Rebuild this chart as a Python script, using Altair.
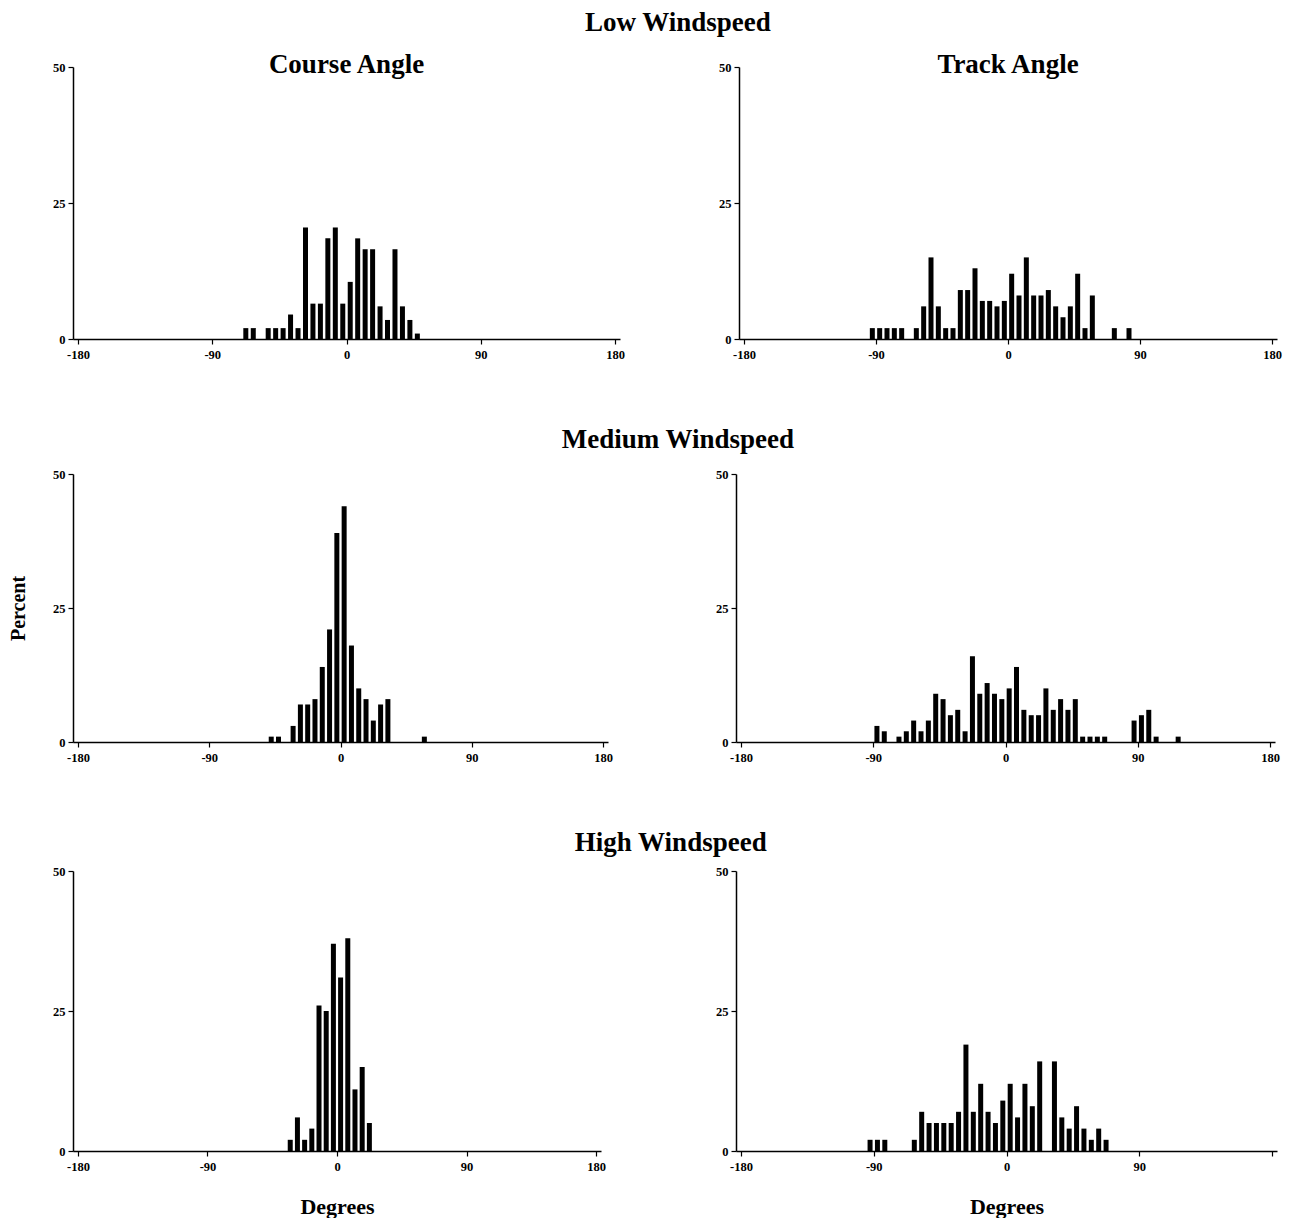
import altair as alt
import pandas as pd

FONT = "Liberation Serif"

# ---------------- data (5-degree bins, centres) ----------------
low_course_deg = [-67.5, -62.5, -52.5, -47.5, -42.5, -37.5, -32.5, -27.5, -22.5, -17.5, -12.5, -7.5,
                  -2.5, 2.5, 7.5, 12.5, 17.5, 22.5, 27.5, 32.5, 37.5, 42.5, 47.5]
low_course_pct = [2, 2, 2, 2, 2, 4.5, 2, 20.5, 6.5, 6.5, 18.5, 20.5,
                  6.5, 10.5, 18.5, 16.5, 16.5, 6, 3.5, 16.5, 6, 3.5, 1]

low_track_deg = [-92.5, -87.5, -82.5, -77.5, -72.5, -62.5, -57.5, -52.5, -47.5, -42.5, -37.5, -32.5,
                 -27.5, -22.5, -17.5, -12.5, -7.5, -2.5, 2.5, 7.5, 12.5, 17.5, 22.5, 27.5, 32.5,
                 37.5, 42.5, 47.5, 52.5, 57.5, 72.5, 82.5]
low_track_pct = [2, 2, 2, 2, 2, 2, 6, 15, 6, 2, 2, 9,
                 9, 13, 7, 7, 6, 7, 12, 8, 15, 8, 8, 9, 6,
                 4, 6, 12, 2, 8, 2, 2]

med_course_deg = [-47.5, -42.5, -32.5, -27.5, -22.5, -17.5, -12.5, -7.5, -2.5, 2.5, 7.5, 12.5,
                  17.5, 22.5, 27.5, 32.5, 57.5]
med_course_pct = [1, 1, 3, 7, 7, 8, 14, 21, 39, 44, 18, 10,
                  8, 4, 7, 8, 1]

med_track_deg = [-87.5, -82.5, -72.5, -67.5, -62.5, -57.5, -52.5, -47.5, -42.5, -37.5, -32.5, -27.5,
                 -22.5, -17.5, -12.5, -7.5, -2.5, 2.5, 7.5, 12.5, 17.5, 22.5, 27.5, 32.5, 37.5,
                 42.5, 47.5, 52.5, 57.5, 62.5, 67.5, 87.5, 92.5, 97.5, 102.5, 117.5]
med_track_pct = [3, 2, 1, 2, 4, 2, 4, 9, 8, 5, 6, 2,
                 16, 9, 11, 9, 8, 10, 14, 6, 5, 5, 10, 6, 8,
                 6, 8, 1, 1, 1, 1, 4, 5, 6, 1, 1]

high_course_deg = [-32.5, -27.5, -22.5, -17.5, -12.5, -7.5, -2.5, 2.5, 7.5, 12.5, 17.5, 22.5]
high_course_pct = [2, 6, 2, 4, 26, 25, 37, 31, 38, 11, 15, 5]

high_track_deg = [-92.5, -87.5, -82.5, -62.5, -57.5, -52.5, -47.5, -42.5, -37.5, -32.5, -27.5,
                  -22.5, -17.5, -12.5, -7.5, -2.5, 2.5, 7.5, 12.5, 17.5, 22.5, 32.5, 37.5,
                  42.5, 47.5, 52.5, 57.5, 62.5, 67.5]
high_track_pct = [2, 2, 2, 2, 7, 5, 5, 5, 5, 7, 19,
                  7, 12, 7, 5, 9, 12, 6, 12, 8, 16, 16, 6,
                  4, 8, 4, 2, 4, 2]

x_ticks = [-180, -90, 0, 90, 180]
y_ticks = [0, 25, 50]


def panel(deg, pct, width, height, title_text=None, ytitle=None, ytitle_pad=24,
          xtitle=None, hide180=False):
    df = pd.DataFrame({"deg": deg, "pct": pct})
    xaxis_kw = dict(values=x_ticks, labelFlush=False, labelOverlap=False, labelPadding=4)
    if xtitle is not None:
        xaxis_kw.update(title=xtitle, titleFontSize=22, titlePadding=24)
    else:
        xaxis_kw.update(title=None)
    if hide180:
        xaxis_kw["labelExpr"] = "datum.value == 180 ? '' : toString(datum.value)"
    else:
        xaxis_kw["labelExpr"] = "toString(datum.value)"
    yaxis_kw = dict(values=y_ticks, labelFlush=False, labelOverlap=False, labelPadding=3)
    if ytitle is not None:
        yaxis_kw.update(title=ytitle, titleFontSize=20, titlePadding=ytitle_pad)
    else:
        yaxis_kw.update(title=None)
    ch = alt.Chart(df).mark_bar(color="black", size=5).encode(
        x=alt.X("deg:Q", scale=alt.Scale(domain=[-180, 180], nice=False, zero=False),
                axis=alt.Axis(**xaxis_kw)),
        y=alt.Y("pct:Q", scale=alt.Scale(domain=[0, 50], nice=False),
                axis=alt.Axis(**yaxis_kw)),
    )
    props = dict(width=width, height=height)
    if title_text is not None:
        props["title"] = alt.TitleParams(title_text, anchor="middle", offset=-18,
                                         fontSize=27, font=FONT, fontWeight="bold")
    return ch.properties(**props)


def row_title(text, dx, offset):
    return alt.TitleParams(text, anchor="middle", fontSize=27, font=FONT,
                           fontWeight="bold", dx=dx, offset=offset)


row1 = alt.hconcat(
    panel(low_course_deg, low_course_pct, 547, 272, title_text="Course Angle",
          ytitle=" ", ytitle_pad=24),
    panel(low_track_deg, low_track_pct, 538, 272, title_text="Track Angle"),
    spacing=93, title=row_title("Low Windspeed", 33, 14),
)
row2 = alt.hconcat(
    panel(med_course_deg, med_course_pct, 535, 268, ytitle="Percent", ytitle_pad=24),
    panel(med_track_deg, med_track_pct, 539, 268),
    spacing=102, title=row_title("Medium Windspeed", 34, 14),
)
row3 = alt.hconcat(
    panel(high_course_deg, high_course_pct, 528, 280, ytitle=" ", ytitle_pad=24,
          xtitle="Degrees"),
    panel(high_track_deg, high_track_pct, 541, 280, xtitle="Degrees", hide180=True),
    spacing=109, title=row_title("High Windspeed", 28, 8),
)

chart = alt.vconcat(row1, row2, row3, spacing=65).configure_axis(
    labelFont=FONT, labelFontWeight="bold", labelFontSize=12.5, labelColor="black",
    titleFont=FONT, titleFontWeight="bold", titleColor="black",
    domainColor="black", domainWidth=1.5, tickColor="black", tickSize=5, tickWidth=1.2,
    grid=False,
).configure_view(strokeWidth=0).configure_title(
    font=FONT, fontWeight="bold", color="black"
).properties(
    padding={"left": 8, "top": 9, "right": 5, "bottom": 5}, background="white"
)

chart.save("out.html", embed_options={"renderer": "svg", "actions": False})
